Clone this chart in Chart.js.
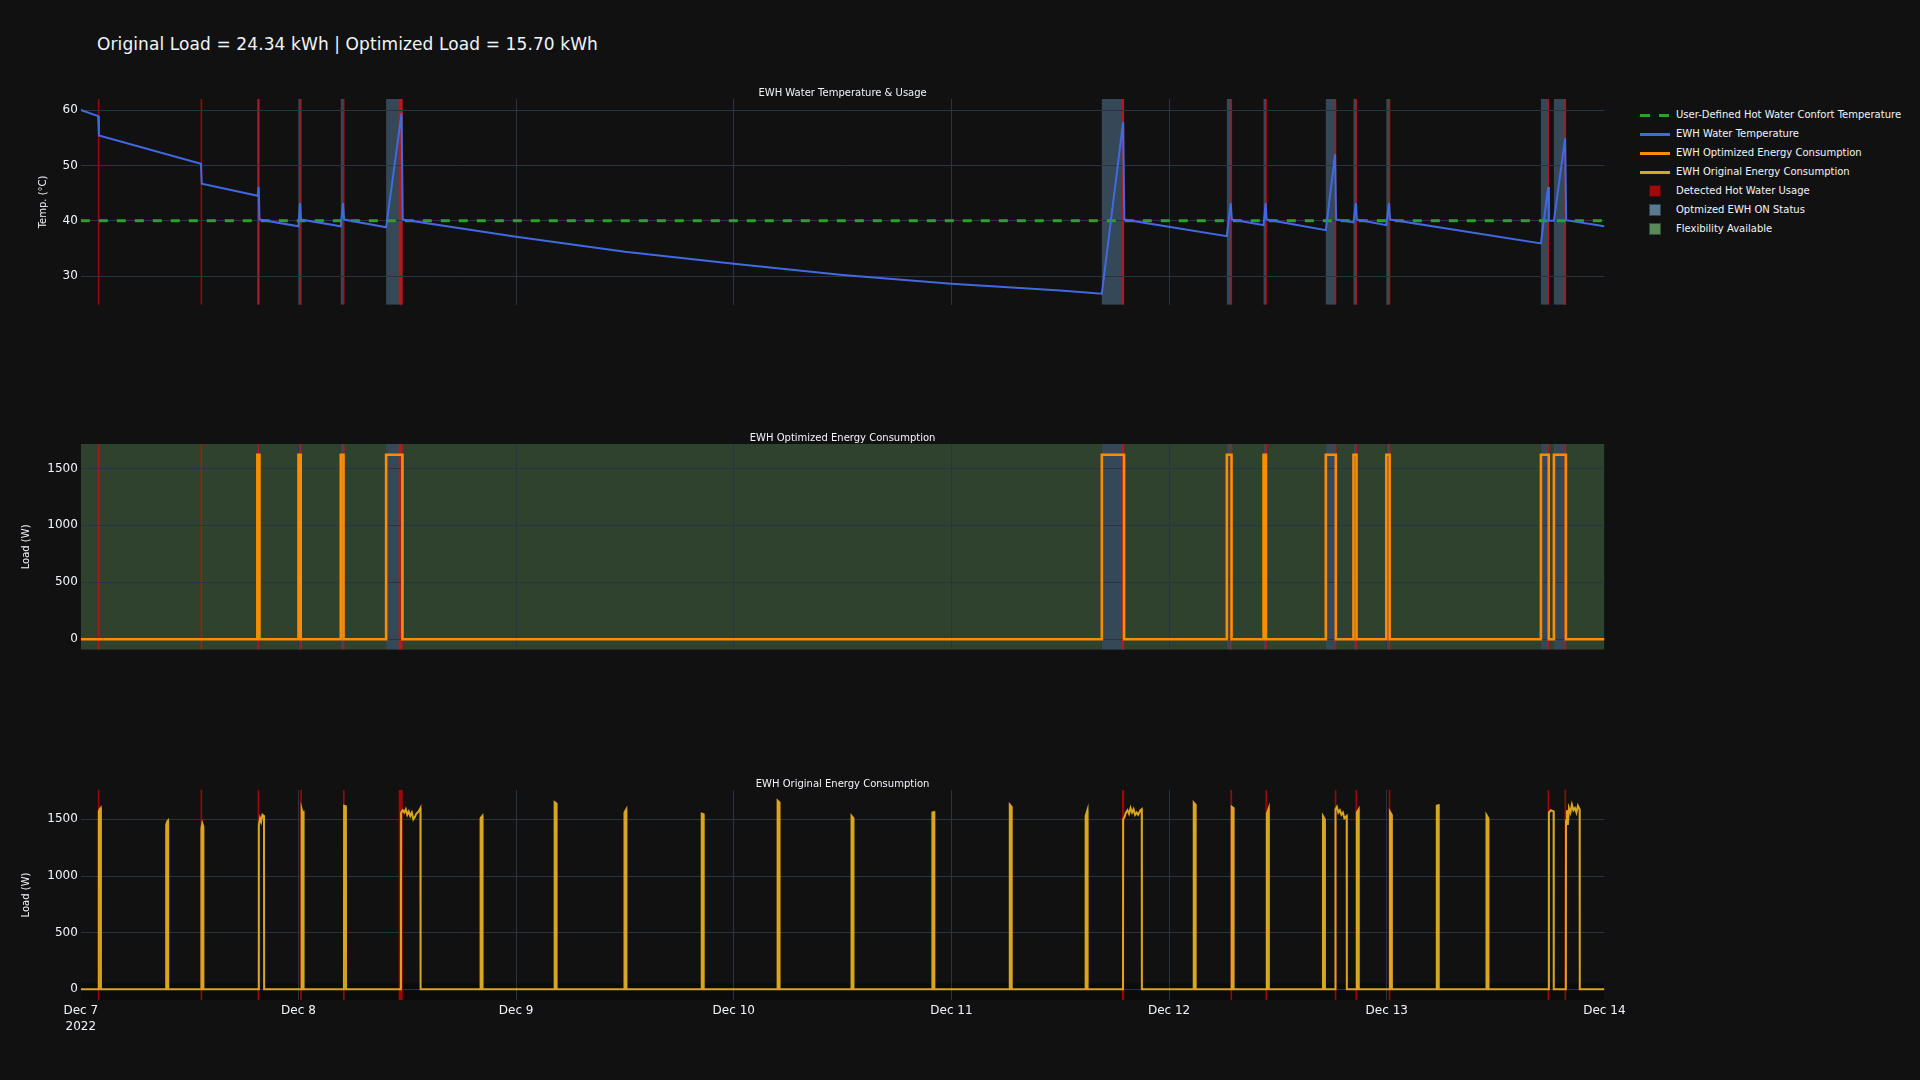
<!DOCTYPE html>
<html>
<head>
<meta charset="utf-8">
<script src="https://cdn.jsdelivr.net/npm/chart.js@4.4.1/dist/chart.umd.min.js"></script>
<style>
  html, body { margin: 0; padding: 0; background: #111111; width: 1920px; height: 1080px; overflow: hidden; font-family: "DejaVu Sans", sans-serif; }
  canvas { position: absolute; left: 0; }
  #title { position: absolute; left: 97px; top: 34px; font-size: 17px; line-height: 20px; letter-spacing: 0.1px; color: #f2f5fa; white-space: nowrap; }
  .lg { position: absolute; left: 1640px; height: 12px; width: 280px; }
  .lg .sym { position: absolute; }
  .lg .txt { position: absolute; left: 36px; top: 0; font-size: 10px; line-height: 12px; color: #f2f5fa; white-space: nowrap; }
</style>
</head>
<body>
<div id="title">Original Load = 24.34 kWh | Optimized Load = 15.70 kWh</div>
<canvas id="c1" width="1640" height="235" style="top:80px"></canvas>
<canvas id="c2" width="1640" height="235" style="top:425px"></canvas>
<canvas id="c3" width="1640" height="274" style="top:771px"></canvas>
<div id="legend"></div>
<script>
// ---------------- DATA ----------------
const xTickLabels = ["Dec 7", "Dec 8", "Dec 9", "Dec 10", "Dec 11", "Dec 12", "Dec 13", "Dec 14"];
const yearLabel = "2022";
const tempTicks = [30, 40, 50, 60];
const loadTicks = [0, 500, 1000, 1500];
const subplotTitles = ["EWH Water Temperature & Usage", "EWH Optimized Energy Consumption", "EWH Original Energy Consumption"];
const axisTitles = ["Temp. (°C)", "Load (W)", "Load (W)"];
const legendLabels = [
  "User-Defined Hot Water Confort Temperature",
  "EWH Water Temperature",
  "EWH Optimized Energy Consumption",
  "EWH Original Energy Consumption",
  "Detected Hot Water Usage",
  "Optmized EWH ON Status",
  "Flexibility Available"
];

const comfortTemp = 40;

const waterTemp = [
  ["12-07 00:00", 60.0], ["12-07 01:55", 58.9], ["12-07 02:00", 55.4], ["12-07 13:15", 50.3],
  ["12-07 13:20", 46.7], ["12-07 19:30", 44.5], ["12-07 19:37", 46.1], ["12-07 19:42", 40.2],
  ["12-08 00:00", 39.0], ["12-08 00:10", 43.2], ["12-08 00:17", 40.2], ["12-08 04:40", 39.0],
  ["12-08 04:55", 43.2], ["12-08 05:02", 40.2], ["12-08 09:40", 38.8], ["12-08 11:22", 59.4],
  ["12-08 11:30", 40.2], ["12-08 18:00", 38.6], ["12-09 00:00", 37.1], ["12-09 12:00", 34.4],
  ["12-10 00:00", 32.2], ["12-10 12:00", 30.2], ["12-11 00:00", 28.6], ["12-11 12:00", 27.4],
  ["12-11 16:35", 26.8], ["12-11 18:56", 57.8], ["12-11 19:04", 40.2], ["12-12 06:22", 37.2],
  ["12-12 06:48", 43.2], ["12-12 06:55", 40.2], ["12-12 10:25", 39.2], ["12-12 10:39", 43.2],
  ["12-12 10:45", 40.2], ["12-12 17:17", 38.3], ["12-12 18:18", 52.0], ["12-12 18:25", 40.2],
  ["12-12 20:20", 39.7], ["12-12 20:36", 43.2], ["12-12 20:42", 40.2], ["12-12 23:57", 39.2],
  ["12-13 00:15", 43.2], ["12-13 00:22", 40.2], ["12-13 17:00", 35.9], ["12-13 17:48", 46.1],
  ["12-13 17:53", 40.0], ["12-13 18:26", 40.0], ["12-13 19:40", 54.9], ["12-13 19:47", 40.1],
  ["12-14 00:00", 39.0]
];

// optimized EWH ON periods (start, end) and power level while ON
const optOnStart = ["12-07 19:28", "12-08 00:00", "12-08 04:40", "12-08 09:40", "12-11 16:35", "12-12 06:22",
                    "12-12 10:25", "12-12 17:17", "12-12 20:20", "12-12 23:57", "12-13 17:00", "12-13 18:26"];
const optOnEnd   = ["12-07 19:42", "12-08 00:15", "12-08 04:58", "12-08 11:28", "12-11 19:02", "12-12 06:53",
                    "12-12 10:41", "12-12 18:23", "12-12 20:40", "12-13 00:19", "12-13 17:52", "12-13 19:45"];
const optLevel = 1620;

// detected hot water usage (start, end)
const usageStart = ["12-07 01:56", "12-07 13:16", "12-07 19:33", "12-08 00:15", "12-08 04:58", "12-08 11:03", "12-11 18:48",
                    "12-12 06:49", "12-12 10:40", "12-12 18:19", "12-12 20:36", "12-13 00:16", "12-13 17:47", "12-13 19:36"];
const usageEnd   = ["12-07 02:00", "12-07 13:20", "12-07 19:37", "12-08 00:19", "12-08 05:02", "12-08 11:30", "12-11 19:03",
                    "12-12 06:54", "12-12 10:45", "12-12 18:24", "12-12 20:41", "12-13 00:21", "12-13 17:52", "12-13 19:47"];

// original load (W)
const originalLoad = [
  ["12-07 00:00", 0],
  ["12-07 01:58", 0], ["12-07 01:59", 1570], ["12-07 02:06", 1590], ["12-07 02:12", 1600], ["12-07 02:13", 0],
  ["12-07 09:24", 0], ["12-07 09:25", 1450], ["12-07 09:31", 1480], ["12-07 09:37", 1490], ["12-07 09:38", 0],
  ["12-07 13:17", 0], ["12-07 13:18", 1420], ["12-07 13:24", 1465], ["12-07 13:30", 1440], ["12-07 13:31", 0],
  ["12-07 19:37", 0], ["12-07 19:38", 1450], ["12-07 19:46", 1510], ["12-07 19:53", 1480], ["12-07 20:02", 1540], ["12-07 20:12", 1530], ["12-07 20:13", 0],
  ["12-08 00:20", 0], ["12-08 00:21", 1590], ["12-08 00:27", 1560], ["12-08 00:33", 1565], ["12-08 00:34", 0],
  ["12-08 05:01", 0], ["12-08 05:02", 1620], ["12-08 05:14", 1615], ["12-08 05:15", 0],
  ["12-08 11:18", 0], ["12-08 11:19", 1560], ["12-08 11:30", 1580], ["12-08 11:40", 1560], ["12-08 11:50", 1590],
  ["12-08 12:00", 1540], ["12-08 12:10", 1570], ["12-08 12:20", 1530], ["12-08 12:30", 1560], ["12-08 12:40", 1500],
  ["12-08 12:50", 1520], ["12-08 13:00", 1550], ["12-08 13:15", 1570], ["12-08 13:27", 1600], ["12-08 13:28", 0],
  ["12-08 20:04", 0], ["12-08 20:05", 1510], ["12-08 20:17", 1530], ["12-08 20:18", 0],
  ["12-09 04:14", 0], ["12-09 04:15", 1651], ["12-09 04:27", 1640], ["12-09 04:28", 0],
  ["12-09 11:56", 0], ["12-09 11:57", 1560], ["12-09 12:09", 1588], ["12-09 12:10", 0],
  ["12-09 20:27", 0], ["12-09 20:28", 1550], ["12-09 20:40", 1545], ["12-09 20:41", 0],
  ["12-10 04:49", 0], ["12-10 04:50", 1665], ["12-10 05:02", 1650], ["12-10 05:03", 0],
  ["12-10 12:58", 0], ["12-10 12:59", 1530], ["12-10 13:11", 1510], ["12-10 13:12", 0],
  ["12-10 21:53", 0], ["12-10 21:54", 1560], ["12-10 22:06", 1565], ["12-10 22:07", 0],
  ["12-11 06:25", 0], ["12-11 06:26", 1630], ["12-11 06:38", 1610], ["12-11 06:39", 0],
  ["12-11 14:47", 0], ["12-11 14:48", 1530], ["12-11 15:00", 1583], ["12-11 15:01", 0],
  ["12-11 18:55", 0], ["12-11 18:56", 1500], ["12-11 19:05", 1520], ["12-11 19:15", 1560], ["12-11 19:25", 1580],
  ["12-11 19:35", 1550], ["12-11 19:45", 1600], ["12-11 19:55", 1560], ["12-11 20:05", 1590], ["12-11 20:15", 1540],
  ["12-11 20:25", 1560], ["12-11 20:35", 1540], ["12-11 20:50", 1580], ["12-11 20:59", 1590], ["12-11 21:00", 0],
  ["12-12 02:42", 0], ["12-12 02:43", 1648], ["12-12 02:55", 1630], ["12-12 02:56", 0],
  ["12-12 06:53", 0], ["12-12 06:54", 1612], ["12-12 07:06", 1600], ["12-12 07:07", 0],
  ["12-12 10:46", 0], ["12-12 10:47", 1550], ["12-12 10:59", 1597], ["12-12 11:00", 0],
  ["12-12 16:57", 0], ["12-12 16:58", 1529], ["12-12 17:10", 1500], ["12-12 17:11", 0],
  ["12-12 18:20", 0], ["12-12 18:21", 1590], ["12-12 18:30", 1610], ["12-12 18:40", 1560], ["12-12 18:50", 1580],
  ["12-12 19:00", 1540], ["12-12 19:10", 1560], ["12-12 19:20", 1510], ["12-12 19:35", 1530], ["12-12 19:36", 0],
  ["12-12 20:41", 0], ["12-12 20:42", 1560], ["12-12 20:54", 1588], ["12-12 20:55", 0],
  ["12-13 00:20", 0], ["12-13 00:21", 1567], ["12-13 00:33", 1540], ["12-13 00:34", 0],
  ["12-13 05:30", 0], ["12-13 05:31", 1620], ["12-13 05:43", 1625], ["12-13 05:44", 0],
  ["12-13 10:59", 0], ["12-13 11:00", 1538], ["12-13 11:12", 1510], ["12-13 11:13", 0],
  ["12-13 17:52", 0], ["12-13 17:53", 1560], ["12-13 18:05", 1580], ["12-13 18:24", 1570], ["12-13 18:25", 0],
  ["12-13 19:45", 0], ["12-13 19:46", 1490], ["12-13 19:52", 1580], ["12-13 19:58", 1450], ["12-13 20:05", 1600],
  ["12-13 20:15", 1560], ["12-13 20:25", 1630], ["12-13 20:35", 1580], ["12-13 20:45", 1600], ["12-13 20:55", 1560],
  ["12-13 21:05", 1620], ["12-13 21:16", 1590], ["12-13 21:17", 0],
  ["12-14 00:00", 0]
];

// ---------------- STYLE ----------------
const GRID = '#283442';
const TXT = '#f2f5fa';
const C_TEMP = '#4169e1';
const C_COMFORT = '#2ca02c';
const C_OPT = '#ff8c00';
const C_ORIG = '#daa520';
const F_RED = 'rgba(255,0,0,0.6)';
const F_BAND = 'rgba(88,128,160,0.5)';
const F_GREEN = 'rgba(90,140,90,0.4)';
const L_RED = '#a00a0a';
const L_BAND = '#5a7a94';
const L_GREEN = '#5a8a5a';

Chart.defaults.font.family = '"DejaVu Sans", sans-serif';
Chart.defaults.color = TXT;

// hours since Dec 7 00:00
function hrs(s) {
  const [md, hm] = s.split(' ');
  const d = +md.split('-')[1];
  const [H, M] = hm.split(':').map(Number);
  return (d - 7) * 24 + H + M / 60;
}
const X_END = (xTickLabels.length - 1) * 24;

const tempPts = waterTemp.map(([t, v]) => ({ x: hrs(t), y: v }));
const comfortPts = [{ x: 0, y: comfortTemp }, { x: X_END, y: comfortTemp }];
const origPts = originalLoad.map(([t, v]) => ({ x: hrs(t), y: v }));
const onIntervals = optOnStart.map((s, i) => [hrs(s), hrs(optOnEnd[i])]);
const usageIntervals = usageStart.map((s, i) => [hrs(s), hrs(usageEnd[i])]);
const optPts = [{ x: 0, y: 0 }];
onIntervals.forEach(([s, e]) => { optPts.push({ x: s, y: 0 }, { x: s, y: optLevel }, { x: e, y: optLevel }, { x: e, y: 0 }); });
optPts.push({ x: X_END, y: 0 });
const flexIntervals = [];
{ let cur = 0; onIntervals.forEach(([s, e]) => { if (s > cur) flexIntervals.push([cur, s]); cur = e; }); if (cur < X_END) flexIntervals.push([cur, X_END]); }

// ---------------- PLUGIN: shapes + subplot title ----------------
const shapesPlugin = {
  id: 'shapes',
  beforeDraw(chart, args, o) {
    const { ctx, chartArea: a, scales: { x, y } } = chart;
    const h = a.bottom - a.top;
    const px = v => x.getPixelForValue(v);
    ctx.save();
    ctx.beginPath(); ctx.rect(a.left, a.top, a.right - a.left, h); ctx.clip();
    if (o.strip !== undefined) {
      ctx.fillStyle = 'rgba(0,0,0,0.3)';
      const ys = y.getPixelForValue(o.strip);
      ctx.fillRect(a.left, ys, a.right - a.left, a.bottom - ys);
    }
    if (o.green) {
      ctx.fillStyle = F_GREEN;
      flexIntervals.forEach(([s, e]) => ctx.fillRect(px(s), a.top, px(e) - px(s), h));
    }
    if (o.bands) {
      ctx.fillStyle = F_BAND;
      onIntervals.forEach(([s, e]) => ctx.fillRect(px(s), a.top, px(e) - px(s), h));
    }
    if (o.red) {
      ctx.fillStyle = F_RED;
      usageIntervals.forEach(([s, e]) => {
        const x0 = px(s), x1 = px(e);
        const w = Math.max(1.6, x1 - x0);
        ctx.fillRect((x0 + x1) / 2 - w / 2, a.top, w, h);
      });
    }
    ctx.restore();
  },
  afterDraw(chart, args, o) {
    const { ctx, chartArea: a } = chart;
    ctx.save();
    ctx.font = '10px "DejaVu Sans"';
    ctx.fillStyle = TXT;
    ctx.textAlign = 'center';
    ctx.textBaseline = 'middle';
    ctx.fillText(o.title, (a.left + a.right) / 2, a.top - 6);
    ctx.restore();
  }
};

function xAxis(showLabels) {
  return {
    type: 'linear', min: 0, max: X_END,
    afterBuildTicks: s => { s.ticks = xTickLabels.map((_, i) => ({ value: i * 24 })); },
    afterFit: s => { s.height = showLabels ? 40 : 0; },
    grid: { color: c => (c.tick && (c.tick.value === 0 || c.tick.value === X_END)) ? 'rgba(0,0,0,0)' : GRID, drawTicks: false, lineWidth: 1 },
    border: { display: false },
    ticks: {
      display: showLabels, maxRotation: 0, minRotation: 0, autoSkip: false, padding: 3,
      color: TXT, font: { size: 12, lineHeight: 1.35 },
      callback: (v, i) => i === 0 ? [xTickLabels[0], yearLabel] : xTickLabels[i]
    }
  };
}
function yAxis(min, max, ticks, title, titleX) {
  return {
    type: 'linear', min, max,
    afterBuildTicks: s => { s.ticks = ticks.map(v => ({ value: v })); },
    afterFit: s => { s.width = 80.8; },
    grid: { color: GRID, drawTicks: false, lineWidth: 1 },
    border: { display: false },
    ticks: { padding: 3, color: TXT, font: { size: 12 }, callback: v => String(v) },
    title: { display: true, text: title, color: TXT, font: { size: 10 }, padding: { top: titleX - 6, bottom: 0 } }
  };
}
function baseOptions(showX, yScale, shapeOpts, bottomPad) {
  return {
    responsive: false, animation: false, events: [],
    layout: { padding: { left: 0, right: 1640 - 1604.4, top: 19, bottom: bottomPad } },
    plugins: { legend: { display: false }, tooltip: { enabled: false }, shapes: shapeOpts },
    scales: { x: xAxis(showX), y: yScale },
    elements: { point: { radius: 0 }, line: { tension: 0 } }
  };
}

new Chart(document.getElementById('c1'), {
  type: 'line',
  data: { datasets: [
    { label: legendLabels[1], data: tempPts, borderColor: C_TEMP, borderWidth: 2, order: 1 },
    { label: legendLabels[0], data: comfortPts, borderColor: C_COMFORT, borderWidth: 3, borderDash: [9, 9], order: 2 }
  ] },
  options: baseOptions(false, yAxis(24.8, 62, tempTicks, axisTitles[0], 43.3), { title: subplotTitles[0], bands: true, red: true }, 5),
  plugins: [shapesPlugin]
});

new Chart(document.getElementById('c2'), {
  type: 'line',
  data: { datasets: [
    { label: legendLabels[2], data: optPts, borderColor: C_OPT, borderWidth: 2.6 }
  ] },
  options: baseOptions(false, yAxis(-92, 1714, loadTicks, axisTitles[1], 26.5), { title: subplotTitles[1], green: true, bands: true, red: true }, 5),
  plugins: [shapesPlugin]
});

new Chart(document.getElementById('c3'), {
  type: 'line',
  data: { datasets: [
    { label: legendLabels[3], data: origPts, borderColor: C_ORIG, borderWidth: 2 }
  ] },
  options: baseOptions(true, yAxis(-94, 1759, loadTicks, axisTitles[2], 26.5), { title: subplotTitles[2], red: true, strip: 53 }, 5),
  plugins: [shapesPlugin]
});

// ---------------- LEGEND (HTML) ----------------
const legendSymbols = [
  { kind: 'dash', color: C_COMFORT },
  { kind: 'line', color: C_TEMP },
  { kind: 'line', color: C_OPT },
  { kind: 'line', color: C_ORIG },
  { kind: 'box', color: L_RED },
  { kind: 'box', color: L_BAND },
  { kind: 'box', color: L_GREEN }
];
const lg = document.getElementById('legend');
legendLabels.forEach((lab, i) => {
  const row = document.createElement('div');
  row.className = 'lg';
  row.style.top = (115.3 + 19 * i - 6) + 'px';
  const sym = document.createElement('div');
  sym.className = 'sym';
  const s = legendSymbols[i];
  if (s.kind === 'dash') {
    Object.assign(sym.style, { left: '0px', top: '4.5px', width: '30px', height: '3px',
      background: `repeating-linear-gradient(90deg, ${s.color} 0 10px, transparent 10px 19px)` });
  } else if (s.kind === 'line') {
    Object.assign(sym.style, { left: '0px', top: '5px', width: '30px', height: '2.5px', background: s.color });
  } else {
    Object.assign(sym.style, { left: '9px', top: '0px', width: '10px', height: '10px', background: s.color,
      border: '1px solid rgba(0,0,0,0.45)' });
  }
  const txt = document.createElement('div');
  txt.className = 'txt';
  txt.textContent = lab;
  row.appendChild(sym); row.appendChild(txt);
  lg.appendChild(row);
});
</script>
</body>
</html>
